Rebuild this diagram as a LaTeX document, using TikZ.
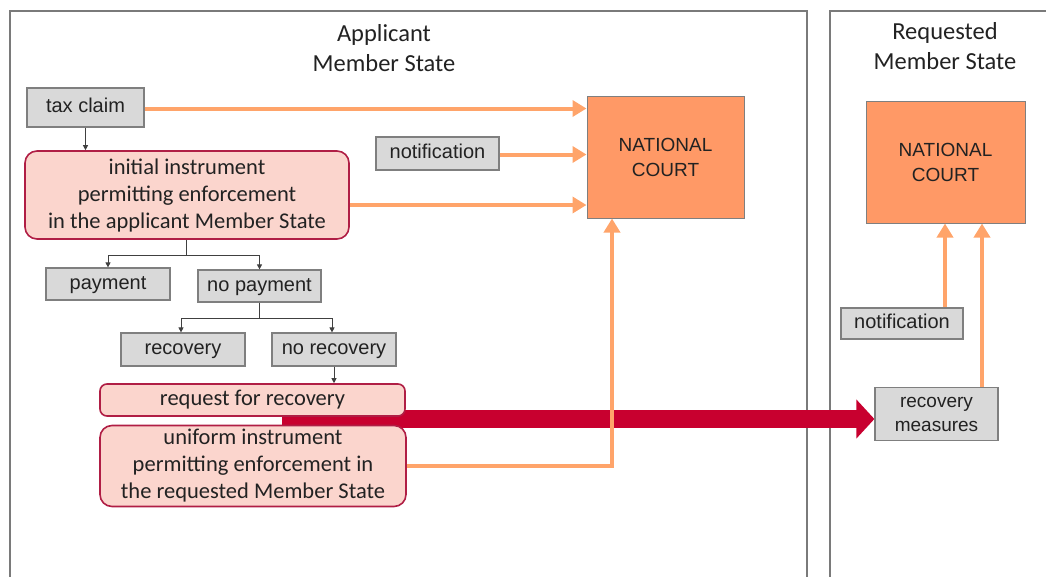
\documentclass[tikz,border=0pt]{standalone}
\usepackage{fontspec}
\setmainfont{Carlito}
\newfontfamily\arialf{Liberation Sans}
\usetikzlibrary{arrows.meta,calc}
\definecolor{grayfill}{HTML}{D9D9D9}
\definecolor{graydraw}{HTML}{7F7F7F}
\definecolor{pinkfill}{HTML}{FBD5CD}
\definecolor{pinkdraw}{HTML}{B01E45}
\definecolor{courtfill}{HTML}{FF9966}
\definecolor{orangeline}{HTML}{FFA46A}
\definecolor{redarrow}{HTML}{C8002F}
\definecolor{framecol}{HTML}{7A7A7A}
\definecolor{txt}{HTML}{222222}
\pgfdeclarelayer{back}
\pgfdeclarelayer{bg}
\pgfsetlayers{back,bg,main}
\begin{document}
\begin{tikzpicture}[x=1pt,y=-1pt,
  graybox/.style={draw=graydraw, fill=grayfill, line width=1.2pt, font=\arialf\fontsize{20}{24}\selectfont, inner sep=0pt, align=center, text=txt},
  grayone/.style={graybox, text height=14.5pt, text depth=4.5pt},
  pinkbox/.style={draw=pinkdraw, fill=pinkfill, line width=1.6pt, rounded corners=12pt, font=\fontsize{22.5}{27}\selectfont, align=center, inner sep=0pt, text=txt},
  court/.style={draw=graydraw, fill=courtfill, line width=1pt, font=\arialf\fontsize{19}{25}\selectfont, align=center, inner sep=0pt, text=txt},
  titlenode/.style={font=\fontsize{24.5}{30}\selectfont, align=center, text=txt},
  orangearrow/.style={draw=orangeline, line width=4pt, -{Triangle[length=14pt,width=16pt]}},
  smallarrow/.style={draw=black!75, line width=0.8pt, -{Triangle[length=5pt,width=5pt]}},
  redbig/.style={draw=redarrow, line width=18pt, -{Triangle[length=18pt,width=38pt]}},
  framebox/.style={draw=framecol, line width=2pt}
]
\useasboundingbox (0,0) rectangle (1046,576);

% titles
\node[titlenode] (tL) at (384,48) {Applicant\\Member State};
\node[titlenode] (tR) at (945,46) {Requested\\Member State};

% nodes
\node[grayone, minimum width=117pt, minimum height=39pt] (tax) at (85.5,107.5) {tax claim};
\node[pinkbox, minimum width=324pt, minimum height=88pt] (init) at (187,195) {initial instrument\\permitting enforcement\\in the applicant Member State};
\node[grayone, minimum width=123pt, minimum height=33pt] (notifL) at (437.5,153.5) {notification};
\node[court, minimum width=157pt, minimum height=122pt] (courtL) at (665.5,157) {NATIONAL\\COURT};
\node[court, minimum width=159pt, minimum height=122pt] (courtR) at (945.5,162) {NATIONAL\\COURT};
\node[grayone, minimum width=124pt, minimum height=32pt] (pay) at (108,284) {payment};
\node[grayone, minimum width=123pt, minimum height=32pt] (nopay) at (259.5,286) {no payment};
\node[grayone, minimum width=124pt, minimum height=33pt] (rec) at (183,349.5) {recovery};
\node[grayone, minimum width=124pt, minimum height=33pt] (norec) at (334,349.5) {no recovery};
\node[pinkbox, rounded corners=7pt, minimum width=305pt, minimum height=32pt, text height=16pt, text depth=5pt] (req) at (252.5,400) {request for recovery};
\node[pinkbox, minimum width=306pt, minimum height=81pt] (unif) at (253,466) {uniform instrument\\permitting enforcement in\\the requested Member State};
\node[grayone, minimum width=122pt, minimum height=31pt] (notifR) at (902,323.5) {notification};
\node[graybox, font=\arialf\fontsize{19}{24}\selectfont, minimum width=123pt, minimum height=53pt] (recm) at (936.5,414) {recovery\\measures};

% frames
\begin{pgfonlayer}{back}
\draw[framebox] (10,11) rectangle (807,600);
\draw[framebox] (830,11) rectangle (1060,600);
\end{pgfonlayer}

% big red arrow behind boxes
\coordinate (rstart) at (282,419);
\begin{pgfonlayer}{bg}
\draw[redbig] (rstart) -- (rstart -| recm.west);
\end{pgfonlayer}

% small black arrows
\draw[smallarrow] (tax.south) -- (tax.south |- init.north);
\draw[smallarrow] ([xshift=-1pt]init.south) -- ++(0,16) -| (pay.north);
\draw[smallarrow] ([xshift=-1pt]init.south) -- ++(0,16) -| (nopay.north);
\draw[smallarrow] (nopay.south) -- ++(0,16) -| ([xshift=-2pt]rec.north);
\draw[smallarrow] (nopay.south) -- ++(0,16) -| ([xshift=-2pt]norec.north);
\draw[smallarrow] (norec.south) -- (norec.south |- req.north);

% orange arrows
\draw[orangearrow] ([yshift=-1pt]tax.east) -- ([yshift=-1pt]tax.east -| courtL.west);
\draw[orangearrow] ([yshift=-1pt]notifL.east) -- ([yshift=-1pt]notifL.east -| courtL.west);
\draw[orangearrow] ([yshift=-10pt]init.east) -- ([yshift=-10pt]init.east -| courtL.west);
\draw[orangearrow] (unif.east) -| ([xshift=-53.5pt]courtL.south);
\draw[orangearrow] ([xshift=43pt]notifR.north) -- ([xshift=43pt]notifR.north |- courtR.south);
\draw[orangearrow] ([xshift=45.5pt]recm.north) -- ([xshift=45.5pt]recm.north |- courtR.south);
\end{tikzpicture}
\end{document}
